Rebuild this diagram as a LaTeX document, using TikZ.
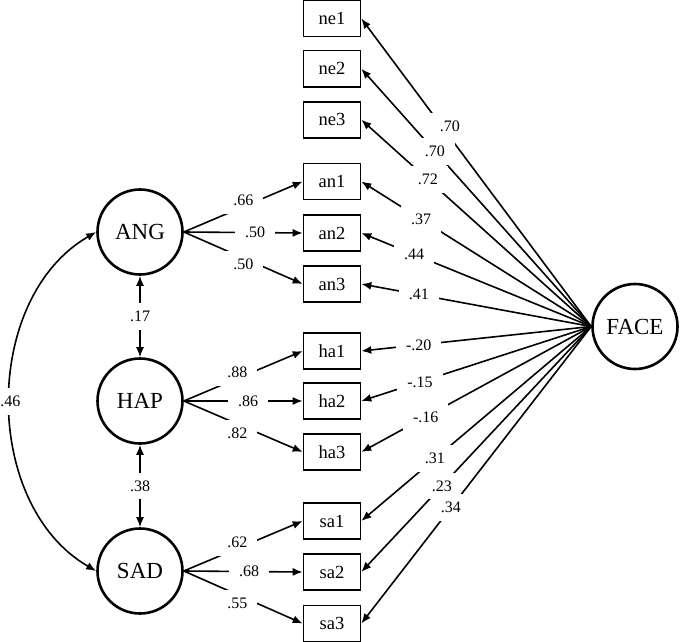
\documentclass[tikz,border=0pt]{standalone}
\usepackage{fontspec}
\setmainfont{Liberation Serif}
\usetikzlibrary{arrows.meta}

\begin{document}
\begin{tikzpicture}
[every node/.style={inner sep=0pt},
 latent/.style={circle, minimum size=85pt, line width=2.6pt, draw=black, font=\fontsize{23}{27}\selectfont},
 observed/.style={rectangle, minimum width=57pt, minimum height=36pt, line width=1.6pt, draw=black, font=\fontsize{18.5}{22}\selectfont},
 lbl/.style={fill=white, inner xsep=10pt, inner ysep=8pt, font=\fontsize{16}{19}\selectfont},
 loading/.style={line width=1.6pt, -{Latex[length=10pt,width=8pt]}},
 corr/.style={line width=1.6pt, {Latex[length=10pt,width=8pt]}-{Latex[length=10pt,width=8pt]}}]
\useasboundingbox (0pt, 0pt) rectangle (680pt, -642pt);
\node (ANG) [latent] at (140pt, -232pt) {ANG};
\node (HAP) [latent] at (140pt, -401pt) {HAP};
\node (SAD) [latent] at (140pt, -571pt) {SAD};
\node (FACE) [latent] at (635pt, -326.5pt) {FACE};
\node (ne1) [observed] at (332pt, -18.5pt) {ne1};
\node (ne2) [observed] at (332pt, -68.7pt) {ne2};
\node (ne3) [observed] at (332pt, -119.7pt) {ne3};
\node (an1) [observed] at (332pt, -181.5pt) {an1};
\node (an2) [observed] at (332pt, -233pt) {an2};
\node (an3) [observed] at (332pt, -284pt) {an3};
\node (ha1) [observed] at (332pt, -351pt) {ha1};
\node (ha2) [observed] at (332pt, -401pt) {ha2};
\node (ha3) [observed] at (332pt, -452pt) {ha3};
\node (sa1) [observed] at (332pt, -521pt) {sa1};
\node (sa2) [observed] at (332pt, -572pt) {sa2};
\node (sa3) [observed] at (332pt, -623.5pt) {sa3};
\draw [loading] (ANG.east) to node [lbl, pos=0.5, yshift=6pt] {.66} (an1.west);
\draw [loading] (ANG.east) to node [lbl, pos=0.6] {.50} (an2.west);
\draw [loading] (ANG.east) to node [lbl, pos=0.5, yshift=-6pt] {.50} (an3.west);
\draw [loading] (HAP.east) to node [lbl, pos=0.45, yshift=6pt] {.88} (ha1.west);
\draw [loading] (HAP.east) to node [lbl, pos=0.54] {.86} (ha2.west);
\draw [loading] (HAP.east) to node [lbl, pos=0.45, yshift=-9pt] {.82} (ha3.west);
\draw [loading] (SAD.east) to node [lbl, pos=0.45, yshift=6pt] {.62} (sa1.west);
\draw [loading] (SAD.east) to node [lbl, pos=0.55] {.68} (sa2.west);
\draw [loading] (SAD.east) to node [lbl, pos=0.45, yshift=-9pt] {.55} (sa3.west);
\draw [loading] (FACE.west) to node [lbl, pos=0.65, xshift=8pt] {.70} (ne1.east);
\draw [loading] (FACE.west) to node [lbl, pos=0.68] {.70} (ne2.east);
\draw [loading] (FACE.west) to node [lbl, pos=0.71] {.72} (ne3.east);
\draw [loading] (FACE.west) to node [lbl, pos=0.74] {.37} (an1.east);
\draw [loading] (FACE.west) to node [lbl, pos=0.77] {.44} (an2.east);
\draw [loading] (FACE.west) to node [lbl, pos=0.75] {.41} (an3.east);
\draw [loading] (FACE.west) to node [lbl, pos=0.75] {-.20} (ha1.east);
\draw [loading] (FACE.west) to node [lbl, pos=0.745] {-.15} (ha2.east);
\draw [loading] (FACE.west) to node [lbl, pos=0.72] {-.16} (ha3.east);
\draw [loading] (FACE.west) to node [lbl, pos=0.68] {.31} (sa1.east);
\draw [loading] (FACE.west) to node [lbl, pos=0.65] {.23} (sa2.east);
\draw [loading] (FACE.west) to node [lbl, pos=0.61] {.34} (sa3.east);
\draw [corr] (ANG.south) to node [lbl] {.17} (HAP.north);
\draw [corr] (HAP.south) to node [lbl] {.38} (SAD.north);
\draw [corr] (ANG.west) to [out=210, in=150] node [lbl] {.46} (SAD.west);
\end{tikzpicture}
\end{document}
